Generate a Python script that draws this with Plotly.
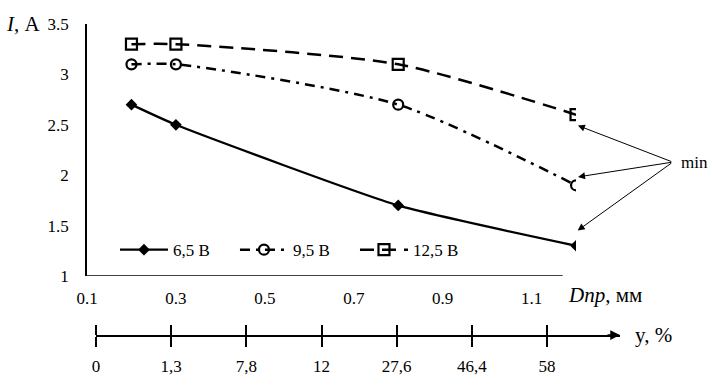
import plotly.graph_objects as go

# Data
d_pr = [0.2, 0.3, 0.8, 1.2]            # Dпр, мм
i_65 = [2.7, 2.5, 1.7, 1.3]            # 6,5 В
i_95 = [3.1, 3.1, 2.7, 1.9]            # 9,5 В
i_125 = [3.3, 3.3, 3.1, 2.6]           # 12,5 В
series_names = ["6,5 В", "9,5 В", "12,5 В"]
y_scale_pos = [0, 1, 2, 3, 4, 5, 6]
y_scale_labels = ["0", "1,3", "7,8", "12", "27,6", "46,4", "58"]

FONT = "Liberation Serif"
TF = dict(family=FONT, size=17, color="black")
fig = go.Figure()

fig.add_trace(go.Scatter(
    x=d_pr, y=i_65, name=series_names[0], mode="lines+markers",
    line=dict(color="black", width=2.3, shape="spline", smoothing=0.5),
    marker=dict(symbol="diamond", size=9, color="black")))
fig.add_trace(go.Scatter(
    x=d_pr, y=i_95, name=series_names[1], mode="lines+markers",
    line=dict(color="black", width=2.5, shape="spline", smoothing=0.7, dash="10px,6px,3px,6px"),
    marker=dict(symbol="circle-open", size=10, color="black", line=dict(width=2.2))))
fig.add_trace(go.Scatter(
    x=d_pr, y=i_125, name=series_names[2], mode="lines+markers",
    line=dict(color="black", width=2.5, shape="spline", smoothing=0.7, dash="14px,8px"),
    marker=dict(symbol="square-open", size=11, color="black", line=dict(width=2.2))))

# invisible trace to activate secondary scale
fig.add_trace(go.Scatter(x=[y_scale_pos[0]], y=[0], xaxis="x2", yaxis="y2", mode="markers",
                         marker=dict(opacity=0), showlegend=False, hoverinfo="skip"))

fig.update_layout(
    template="none",
    width=712, height=388,
    margin=dict(l=87, r=87, t=24, b=53, autoexpand=False),
    paper_bgcolor="white", plot_bgcolor="white",
    font=dict(family=FONT, size=17, color="black"),
    showlegend=True,
    legend=dict(orientation="h", x=0.052, y=0.273, xanchor="left", yanchor="middle",
                bgcolor="rgba(0,0,0,0)", font=TF, itemwidth=48,
                entrywidth=57, entrywidthmode="pixels",
                traceorder="normal"),
    xaxis=dict(domain=[0, 0.909], range=[0.1, 1.2], anchor="y", automargin=False,
               tick0=0.1, dtick=0.2, showline=False, showgrid=False, zeroline=False,
               ticks="", ticklabelstandoff=10, tickfont=TF),
    yaxis=dict(domain=[0.1897, 1], range=[1, 3.5], anchor="x", automargin=False,
               dtick=0.5, showline=True, linecolor="black", linewidth=1.5,
               showgrid=False, zeroline=False, ticks="outside", ticklen=13,
               tickcolor="rgba(0,0,0,0)", tickfont=TF),
    xaxis2=dict(domain=[0.0167, 0.9907], range=[0, 6.97], anchor="y2", automargin=False,
                showline=True, linecolor="black", linewidth=1.5, showgrid=False,
                zeroline=False, tickmode="array", tickvals=y_scale_pos, ticktext=y_scale_labels,
                ticks="outside", ticklen=10, tickwidth=1.5, tickcolor="black",
                ticklabelstandoff=5, tickfont=TF,
                minor=dict(tickmode="array", tickvals=y_scale_pos, ticks="inside",
                           ticklen=10, tickwidth=1.5, tickcolor="black", showgrid=False)),
    yaxis2=dict(domain=[0, 0.02], anchor="x2", visible=False, range=[0, 1], automargin=False),
)

# x-axis baseline (shorter than the data range, as in reference)
fig.add_shape(type="line", xref="x", yref="y", x0=0.1, y0=1, x1=1.17, y1=1,
              line=dict(color="black", width=1.5))

# arrow at end of secondary scale
fig.add_annotation(x=6.97, y=0, xref="x2", yref="paper", text="", showarrow=True,
                   ax=-14, ay=0, arrowhead=2, arrowsize=1.3, arrowwidth=1.5, arrowcolor="black")

# Axis titles
fig.add_annotation(x=-0.155, y=1.0, xref="paper", yref="paper", xanchor="left", yanchor="middle",
                   text="<i>I</i>, А", showarrow=False, font=dict(family=FONT, size=21))
fig.add_annotation(x=0.89, y=0.129, xref="paper", yref="paper", xanchor="left", yanchor="middle",
                   text="<i>Dпр</i>, мм", showarrow=False, font=dict(family=FONT, size=21))
fig.add_annotation(x=1.015, y=0.0, xref="paper", yref="paper", xanchor="left", yanchor="middle",
                   text="y, %", showarrow=False, font=dict(family=FONT, size=21))
fig.add_annotation(x=1.1, y=0.556, xref="paper", yref="paper", xanchor="left", yanchor="middle",
                   text="min", showarrow=False, font=dict(family=FONT, size=17))

# "min" arrows pointing near the last points
tail_x, tail_y = 1.4176, 2.13
arrow_offsets = [-0.1, 0.08, 0.14]
for yy, off in zip([i_125[-1], i_95[-1], i_65[-1]], arrow_offsets):
    fig.add_annotation(x=d_pr[-1], y=yy + off, xref="x", yref="y", axref="x", ayref="y",
                       ax=tail_x, ay=tail_y, text="", showarrow=True, arrowhead=2,
                       arrowsize=1.4, arrowwidth=1, arrowcolor="black", standoff=2)

fig.write_html("out.html", config={"displayModeBar": False},
               post_script="document.body.style.margin='0';")
